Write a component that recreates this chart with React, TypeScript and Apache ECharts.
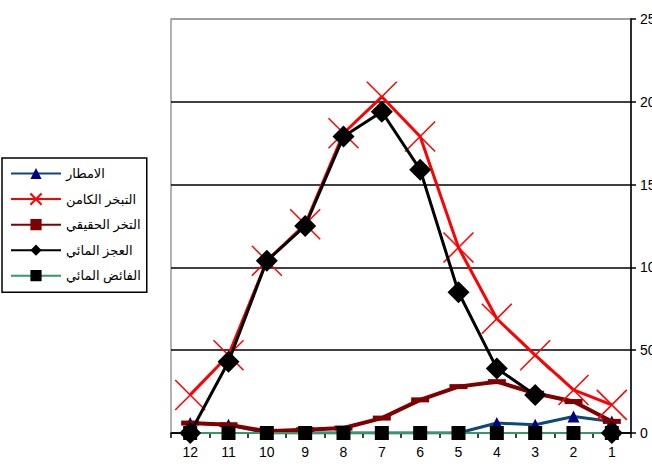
import React, { useEffect, useRef } from "react";
import * as echarts from "echarts";

const months = ["12", "11", "10", "9", "8", "7", "6", "5", "4", "3", "2", "1"];
const rain = [6, 5, 0, 0, 0, 0, 0, 0, 6, 5, 10, 7];
const potentialEvap = [23, 47, 104, 126, 181, 203, 179, 112, 69, 47, 26, 17];
const actualEvap = [6, 5, 1, 2, 3, 9, 20, 28, 31, 24, 19, 7];
const waterDeficit = [0, 43, 104, 125, 179, 194, 159, 85, 39, 23, null, 0];
const waterSurplus = [0, 0, 0, 0, 0, 0, 0, 0, 0, 0, 0, 0];
const yTicks = [0, 50, 100, 150, 200, 250];

const names = ["الامطار", "التبخر الكامن", "التخر الحقيقي", "العجز المائي", "الفائض المائي"];

export default function App() {
  const ref = useRef<HTMLDivElement>(null);
  useEffect(() => {
    if (!ref.current) return;
    const chart = echarts.init(ref.current, null, { renderer: "svg" });
    const font = "Liberation Sans, Arial, DejaVu Sans, sans-serif";
    chart.setOption({
      animation: false,
      backgroundColor: "#ffffff",
      textStyle: { fontFamily: font },
      grid: {
        left: 171,
        right: 21,
        top: 19,
        bottom: 42,
        containLabel: false,
        outerBoundsMode: "none",
        show: true,
        borderColor: "#999",
        borderWidth: 1.5,
      },
      legend: {
        orient: "vertical",
        left: 2,
        top: 158,
        padding: [9, 6, 10, 8],
        itemWidth: 50,
        itemHeight: 14,
        itemGap: 12.5,
        borderColor: "#000",
        borderWidth: 1.5,
        textStyle: { fontFamily: font, fontSize: 13, color: "#000" },
        data: names,
      },
      xAxis: {
        type: "category",
        data: months,
        boundaryGap: true,
        axisLine: { lineStyle: { color: "#000", width: 1.5 } },
        axisTick: { show: true, inside: false, length: 5, lineStyle: { color: "#000", width: 1.5 } },
        axisLabel: { color: "#000", fontSize: 14, margin: 12, fontFamily: font },
        splitLine: { show: false },
      },
      yAxis: {
        type: "value",
        position: "right",
        min: yTicks[0],
        max: yTicks[yTicks.length - 1],
        interval: 50,
        axisLine: { show: true, lineStyle: { color: "#000", width: 1.5 } },
        axisTick: { show: true, length: 5, lineStyle: { color: "#000", width: 1.5 } },
        axisLabel: { color: "#000", fontSize: 14, margin: 9, fontFamily: font },
        splitLine: { show: true, lineStyle: { color: ["#000", "#000", "#000", "#000", "#000", "#999"], width: 1.5 } },
      },
      series: [
        {
          name: names[0],
          type: "line",
          data: rain,
          z: 2,
          symbol: "triangle",
          symbolSize: 12,
          lineStyle: { color: "#0b4a78", width: 3 },
          itemStyle: { color: "#000080" },
        },
        {
          name: names[1],
          type: "line",
          data: potentialEvap,
          z: 3,
          symbol: "path://M0,0L20,20M20,0L0,20",
          symbolSize: 30,
          lineStyle: { color: "#ff0000", width: 3 },
          itemStyle: { color: "rgba(0,0,0,0)", borderColor: "#ff0000", borderWidth: 1.5 },
        },
        {
          name: names[2],
          type: "line",
          data: actualEvap,
          z: 3,
          symbol: "rect",
          symbolSize: [18, 5],
          lineStyle: { color: "#800000", width: 4 },
          itemStyle: { color: "#800000" },
        },
        {
          name: names[3],
          type: "line",
          data: waterDeficit,
          z: 5,
          connectNulls: false,
          symbol: "diamond",
          symbolSize: 22,
          lineStyle: { color: "#000", width: 3 },
          itemStyle: { color: "#000" },
        },
        {
          name: names[4],
          type: "line",
          data: waterSurplus,
          z: 4,
          symbol: "rect",
          symbolSize: 14,
          lineStyle: { color: "#339966", width: 2 },
          itemStyle: { color: "#000" },
        },
      ],
    });
    return () => chart.dispose();
  }, []);
  return <div ref={ref} style={{ position: "fixed", left: 0, top: 0, width: 652, height: 475 }} />;
}
